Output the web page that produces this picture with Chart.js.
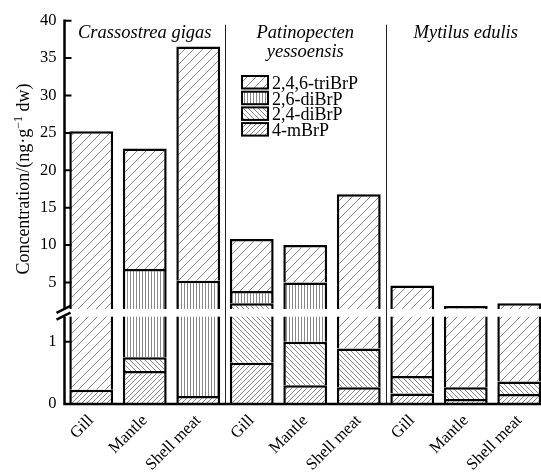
<!DOCTYPE html>
<html>
<head>
<meta charset="utf-8">
<script src="https://cdn.jsdelivr.net/npm/chart.js@4/dist/chart.umd.min.js"></script>
<style>
  html, body { margin: 0; padding: 0; background: #fff; overflow: hidden; }
  #wrap { width: 541px; height: 476px; overflow: hidden; }
</style>
</head>
<body>
<div id="wrap"><canvas id="bromo" width="546" height="476"></canvas></div>
<script>
// Tissues (x categories) and species groups.
const tissues = ['Gill', 'Mantle', 'Shell meat', 'Gill', 'Mantle', 'Shell meat', 'Gill', 'Mantle', 'Shell meat'];
const species = [['Crassostrea gigas'], ['Patinopecten', 'yessoensis'], ['Mytilus edulis']];

// Concentrations, ng/g dw (stacked bottom -> top).
const mBrP4    = [0.23, 0.53, 0.13, 0.66, 0.30, 0.27, 0.17, 0.08, 0.16];
const diBrP24  = [null, 0.22, null, 1.56, 0.70, 0.62, 0.28, 0.19, 0.20];
const diBrP26  = [null, 6.05, 5.11, 1.64, 4.00, null, null, null, null];
const triBrP   = [25.0, 16.1, 31.3, 6.94, 5.00, 15.9, 4.15, 1.59, 1.86];

const yTicks = [0, 1, 5, 10, 15, 20, 25, 30, 35, 40];

// Broken y axis: lower panel 0..LOW_MAX, upper panel HIGH_MIN..40.
const LOW_MAX = 1.4, HIGH_MIN = 1.46;
const LOW_FRAC = 0.2278, GAP_FRAC = 0.0201;

class BrokenScale extends Chart.LinearScale {
    static id = 'broken';
    static defaults = Chart.LinearScale.defaults;

    buildTicks() {
        return yTicks.map(v => ({ value: v }));
    }
    _frac(v) {
        const max = this.max;
        if (v <= LOW_MAX) return v / LOW_MAX * LOW_FRAC;
        if (v >= HIGH_MIN) return LOW_FRAC + GAP_FRAC + (v - HIGH_MIN) / (max - HIGH_MIN) * (1 - LOW_FRAC - GAP_FRAC);
        return LOW_FRAC + (v - LOW_MAX) / (HIGH_MIN - LOW_MAX) * GAP_FRAC;
    }
    getPixelForValue(v) {
        if (v === null || v === undefined) return NaN;
        return this.bottom - this._frac(v) * (this.bottom - this.top);
    }
    getValueForPixel(p) {
        const f = (this.bottom - p) / (this.bottom - this.top);
        if (f <= LOW_FRAC) return f / LOW_FRAC * LOW_MAX;
        if (f >= LOW_FRAC + GAP_FRAC) return HIGH_MIN + (f - LOW_FRAC - GAP_FRAC) / (1 - LOW_FRAC - GAP_FRAC) * (this.max - HIGH_MIN);
        return LOW_MAX;
    }
}
Chart.register(BrokenScale);

// Hatch fills.
function hatch(kind, s) {
    const c = document.createElement('canvas');
    c.width = s; c.height = s;
    const g = c.getContext('2d');
    g.fillStyle = '#fff';
    g.fillRect(0, 0, s, s);
    g.strokeStyle = '#6a6a6a';
    g.lineWidth = 0.8;
    g.beginPath();
    if (kind === '/') {
        g.moveTo(0, s); g.lineTo(s, 0);
        g.moveTo(-1, 1); g.lineTo(1, -1);
        g.moveTo(s - 1, s + 1); g.lineTo(s + 1, s - 1);
    } else if (kind === '\\') {
        g.moveTo(0, 0); g.lineTo(s, s);
        g.moveTo(-1, s - 1); g.lineTo(1, s + 1);
        g.moveTo(s - 1, -1); g.lineTo(s + 1, 1);
    } else {
        g.moveTo(s / 2, 0); g.lineTo(s / 2, s);
    }
    g.stroke();
    return g.createPattern(c, 'repeat');
}

const fills = {
    tri:  hatch('/', 9),
    di26: hatch('|', 3),
    di24: hatch('\\', 5),
    m4:   hatch('/', 5)
};

const SERIF = "'Liberation Serif', 'Times New Roman', serif";
Chart.defaults.font.family = SERIF;
Chart.defaults.color = '#000';

const legendItems = [
    ['2,4,6-triBrP', fills.tri],
    ['2,6-diBrP', fills.di26],
    ['2,4-diBrP', fills.di24],
    ['4-mBrP', fills.m4]
];

const decor = {
    id: 'decor',
    afterDatasetsDraw(chart) {
        const { ctx, chartArea: a, scales } = chart;
        const y = scales.y;
        const gapTop = y.getPixelForValue(HIGH_MIN);
        const gapBot = y.getPixelForValue(LOW_MAX);
        const w = (a.right - a.left) / tissues.length;

        ctx.save();
        // Gap of the broken axis.
        ctx.fillStyle = '#fff';
        ctx.fillRect(a.left - 2, gapTop, a.right - a.left + 4, gapBot - gapTop);

        // Group separators.
        ctx.strokeStyle = '#222';
        ctx.lineWidth = 1;
        ctx.beginPath();
        [3, 6].forEach(i => {
            const sx = Math.round(a.left + i * w) + 0.5;
            ctx.moveTo(sx, a.top + 4);
            ctx.lineTo(sx, a.bottom);
        });
        ctx.stroke();

        // Axes.
        ctx.strokeStyle = '#000';
        ctx.lineWidth = 2.5;
        ctx.beginPath();
        ctx.moveTo(a.left, a.top - 1.25); ctx.lineTo(a.left, gapTop);
        ctx.moveTo(a.left, gapBot); ctx.lineTo(a.left, a.bottom);
        ctx.moveTo(a.left - 1.25, a.bottom); ctx.lineTo(a.right, a.bottom);
        ctx.stroke();

        // Inward ticks.
        ctx.lineWidth = 2;
        ctx.beginPath();
        yTicks.forEach(v => {
            if (v === 0) return;
            const ty = y.getPixelForValue(v);
            ctx.moveTo(a.left, ty); ctx.lineTo(a.left + 7, ty);
        });
        ctx.stroke();

        // Break marks.
        ctx.lineWidth = 2.5;
        ctx.beginPath();
        ctx.moveTo(a.left - 8, gapTop + 4); ctx.lineTo(a.left + 6, gapTop - 3);
        ctx.moveTo(a.left - 8, gapBot + 3); ctx.lineTo(a.left + 6, gapBot - 4);
        ctx.stroke();

        // Species titles.
        ctx.fillStyle = '#000';
        ctx.font = 'italic 18.5px ' + SERIF;
        ctx.textAlign = 'center';
        ctx.textBaseline = 'alphabetic';
        species.forEach((lines, g) => {
            const cx = a.left + (g * 3 + 1.5) * w;
            lines.forEach((t, k) => ctx.fillText(t, cx, 38 + k * 19));
        });

        // Legend.
        ctx.font = '18px ' + SERIF;
        ctx.textAlign = 'left';
        legendItems.forEach(([label, fill], k) => {
            const by = 76 + k * 15.7;
            ctx.fillStyle = fill;
            ctx.fillRect(242, by, 26, 12.5);
            ctx.strokeStyle = '#000';
            ctx.lineWidth = 2;
            ctx.strokeRect(242, by, 26, 12.5);
            ctx.fillStyle = '#000';
            ctx.fillText(label, 272, by + 13);
        });

        // Y title with superscript.
        ctx.translate(29, 179);
        ctx.rotate(-Math.PI / 2);
        const p1 = 'Concentration/(ng·g', sup = '−1', p2 = ' dw)';
        ctx.font = '18px ' + SERIF;
        const w1 = ctx.measureText(p1).width, w3 = ctx.measureText(p2).width;
        ctx.font = '12px ' + SERIF;
        const w2 = ctx.measureText(sup).width;
        let tx = -(w1 + w2 + w3) / 2;
        ctx.font = '18px ' + SERIF;
        ctx.fillText(p1, tx, 0);
        tx += w1;
        ctx.font = '12px ' + SERIF;
        ctx.fillText(sup, tx, -7);
        tx += w2;
        ctx.font = '18px ' + SERIF;
        ctx.fillText(p2, tx, 0);
        ctx.restore();
    }
};

const barStyle = { borderColor: '#000', borderWidth: 2.5, borderSkipped: 'start', barPercentage: 0.82, categoryPercentage: 1 };

new Chart(document.getElementById('bromo'), {
    type: 'bar',
    data: {
        labels: tissues,
        datasets: [
            Object.assign({ label: '4-mBrP', data: mBrP4, backgroundColor: fills.m4 }, barStyle),
            Object.assign({ label: '2,4-diBrP', data: diBrP24, backgroundColor: fills.di24 }, barStyle),
            Object.assign({ label: '2,6-diBrP', data: diBrP26, backgroundColor: fills.di26 }, barStyle),
            Object.assign({ label: '2,4,6-triBrP', data: triBrP, backgroundColor: fills.tri }, barStyle)
        ]
    },
    options: {
        responsive: false,
        animation: false,
        layout: { padding: { top: 20.7, left: 0, right: 0, bottom: 0 } },
        plugins: { legend: { display: false }, tooltip: { enabled: false } },
        scales: {
            x: {
                stacked: true,
                grid: { display: false, drawTicks: false },
                border: { display: false },
                ticks: { maxRotation: 45, minRotation: 45, padding: 7, color: '#000', font: { size: 16.5 } },
                afterFit: s => { s.height = 72; }
            },
            y: {
                type: 'broken',
                stacked: true,
                min: 0,
                max: 40,
                grid: { display: false, drawTicks: false },
                border: { display: false },
                ticks: { autoSkip: false, padding: 8, color: '#000', font: { size: 16.5 }, callback: v => String(v) },
                afterFit: s => { s.width = 64.5; }
            }
        }
    },
    plugins: [decor]
});
</script>
</body>
</html>
